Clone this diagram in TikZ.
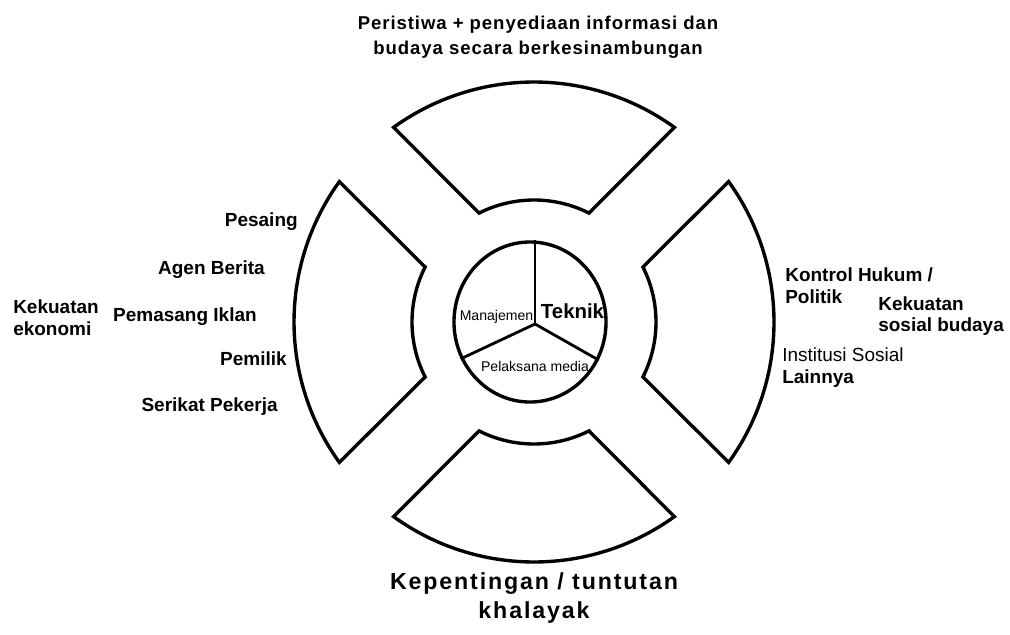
\documentclass[tikz,border=0pt]{standalone}
\usepackage{fontspec}
\setmainfont{Liberation Sans}
\newfontfamily\topfont{Liberation Sans}[LetterSpace=5]
\newfontfamily\bottomfont{Liberation Sans}[LetterSpace=8]
\usetikzlibrary{shapes.geometric}
\tikzstyle{segment} = [line width=2.4pt, line join=miter]
\tikzstyle{hub}     = [ellipse, draw, line width=2.4pt, minimum width=3.8cm,
                       minimum height=4cm, inner sep=0pt]
\tikzstyle{divider} = [line width=2pt]
\tikzstyle{factor}  = [font=\fontsize{13.5}{15.5}\selectfont\bfseries, inner sep=0pt]
\tikzstyle{sector}  = [font=\fontsize{10}{12}\selectfont, inner sep=0pt]

\begin{document}
\begin{tikzpicture}[x=0.025cm, y=0.025cm]
  \useasboundingbox (0,0) rectangle (1010,634);

  % Outer segments
  \begin{scope}[shift={(534,312)}]
    \foreach \a in {0,90,180,270}
      \draw[segment, rotate=\a] (54.2:240) arc[start angle=54.2, end angle=125.8, radius=240]
        -- (116.8:122) arc[start angle=116.8, end angle=63.2, radius=122] -- cycle;
  \end{scope}

  % Hub
  \node (hub) [hub] at (530,312) {};
  \coordinate (junction) at (535,310);
  \draw[divider, line width=1.4pt] (junction) -- (junction |- hub.north);
  \draw[divider] (junction) -- (hub.208);
  \draw[divider] (junction) -- (hub.331);

  \node (manajemen) [sector] at (496.5,317) {Manajemen};
  \node (teknik)    [sector, font=\fontsize{14.5}{16}\selectfont\bfseries] at (572.5,323) {Teknik};
  \node (pelaksana) [sector] at (535,268) {Pelaksana media};

  % Top and bottom
  \node (peristiwa) [align=center, font=\topfont\fontsize{13.2}{17.8}\selectfont\bfseries]
    at (538,597) {Peristiwa + penyediaan informasi dan\\budaya secara berkesinambungan};
  \node (khalayak) [align=center, font=\bottomfont\fontsize{16.5}{20}\selectfont\bfseries]
    at (534,36) {Kepentingan / tuntutan\\khalayak};

  % Economic forces
  \node (pesaing)  [factor, anchor=east] at (298,412) {Pesaing};
  \node (agen)     [factor, anchor=east] at (265,364) {Agen Berita};
  \node (iklan)    [factor, anchor=east] at (257,317) {Pemasang Iklan};
  \node (pemilik)  [factor, anchor=east] at (287,275) {Pemilik};
  \node (serikat)  [factor, anchor=east] at (278,227) {Serikat Pekerja};
  \node (ekonomi)  [factor, anchor=west, align=left] at (13,316) {Kekuatan\\ekonomi};

  % Socio-cultural forces
  \node (hukum)    [factor, anchor=west, align=left] at (785,348) {Kontrol Hukum /\\Politik};
  \node (sosbud)   [factor, anchor=west, align=left] at (878,318) {Kekuatan\\sosial budaya};
  \node (institusi)[factor, anchor=west, align=left] at (782,266.5) {\textmd{Institusi Sosial}\\Lainnya};

\end{tikzpicture}
\end{document}
